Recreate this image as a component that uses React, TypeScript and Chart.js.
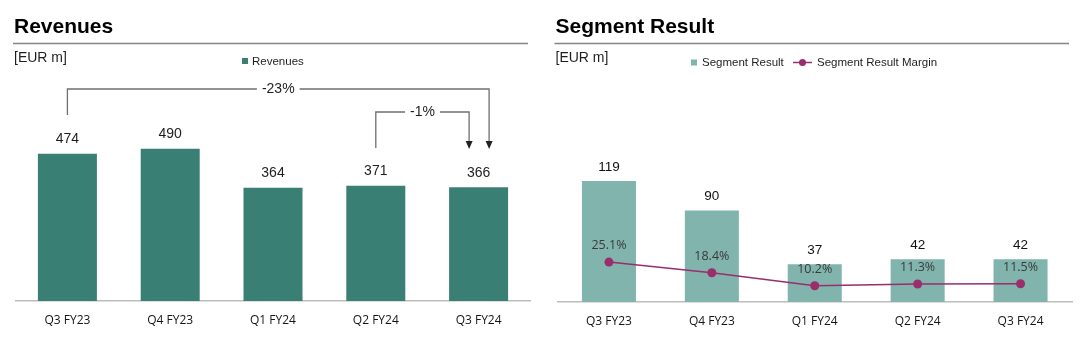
import React, { useEffect, useRef } from "react";
import { Chart, registerables } from "chart.js";

Chart.register(...registerables);

const categories = ["Q3 FY23", "Q4 FY23", "Q1 FY24", "Q2 FY24", "Q3 FY24"];
const revenues = [474, 490, 364, 371, 366];
const segmentResult = [119, 90, 37, 42, 42];
const segmentMargin = [25.1, 18.4, 10.2, 11.3, 11.5];
const revenueChangeLabels = ["-23%", "-1%"];

const FONT = '"Liberation Sans", Arial, Helvetica, sans-serif';
const TICK_FONT = '"Open Sans", "Liberation Sans", Arial, sans-serif';
const REV_COLOR = "#3a7f74";
const SEG_COLOR = "#80b4ad";
const LINE_COLOR = "#9a2d6c";
const TEXT = "#1e1e1e";

function drawHeader(ctx: CanvasRenderingContext2D, title: string, x: number, ruleEnd: number) {
  ctx.fillStyle = "#000";
  ctx.font = `bold 21px ${FONT}`;
  ctx.textAlign = "left";
  ctx.textBaseline = "alphabetic";
  ctx.fillText(title, x, 33);
  ctx.strokeStyle = "#858585";
  ctx.lineWidth = 1.5;
  ctx.beginPath();
  ctx.moveTo(x - 1, 43.5);
  ctx.lineTo(ruleEnd, 43.5);
  ctx.stroke();
  ctx.fillStyle = TEXT;
  ctx.font = `14px ${FONT}`;
  ctx.textBaseline = "middle";
  ctx.fillText("[EUR m]", x, 58);
}

function drawBracket(
  ctx: CanvasRenderingContext2D,
  xL: number,
  xR: number,
  yTop: number,
  yLeftEnd: number,
  yTip: number,
  label: string
) {
  ctx.font = `14px ${FONT}`;
  const tw = ctx.measureText(label).width;
  const cx = (xL + xR) / 2;
  const gap = 5;
  ctx.strokeStyle = "#6f6f6f";
  ctx.lineWidth = 1.3;
  ctx.beginPath();
  ctx.moveTo(xL, yLeftEnd);
  ctx.lineTo(xL, yTop);
  ctx.lineTo(cx - tw / 2 - gap, yTop);
  ctx.moveTo(cx + tw / 2 + gap, yTop);
  ctx.lineTo(xR, yTop);
  ctx.lineTo(xR, yTip - 6);
  ctx.stroke();
  ctx.fillStyle = "#222";
  ctx.beginPath();
  ctx.moveTo(xR - 3.5, yTip - 8);
  ctx.lineTo(xR + 3.5, yTip - 8);
  ctx.lineTo(xR, yTip);
  ctx.closePath();
  ctx.fill();
  ctx.fillStyle = TEXT;
  ctx.textAlign = "center";
  ctx.textBaseline = "middle";
  ctx.fillText(label, cx, yTop);
}

const revenuePlugin = {
  id: "revenueDecor",
  afterDraw(chart: any) {
    const ctx: CanvasRenderingContext2D = chart.ctx;
    const xs = chart.scales.x;
    ctx.save();
    drawHeader(ctx, "Revenues", 14, 528);
    // legend
    ctx.fillStyle = REV_COLOR;
    ctx.fillRect(242, 58, 6, 6);
    ctx.fillStyle = TEXT;
    ctx.font = `11.5px ${FONT}`;
    ctx.textAlign = "left";
    ctx.textBaseline = "middle";
    ctx.fillText("Revenues", 252, 61.5);
    // values
    const meta = chart.getDatasetMeta(0);
    ctx.font = `14px ${FONT}`;
    ctx.textAlign = "center";
    meta.data.forEach((bar: any, i: number) => {
      ctx.fillText(String(revenues[i]), bar.x, bar.y - 14.5);
    });
    // brackets
    const x0 = xs.getPixelForValue(0);
    const x3 = xs.getPixelForValue(3);
    const x4 = xs.getPixelForValue(4);
    drawBracket(ctx, x0, x4 + 10.5, 89, 115, 149, revenueChangeLabels[0]);
    drawBracket(ctx, x3, x4 - 9.5, 112, 148, 149, revenueChangeLabels[1]);
    ctx.restore();
  },
};

const segmentPlugin = {
  id: "segmentDecor",
  afterDraw(chart: any) {
    const ctx: CanvasRenderingContext2D = chart.ctx;
    ctx.save();
    drawHeader(ctx, "Segment Result", 15.5, 529);
    // legend
    ctx.fillStyle = SEG_COLOR;
    ctx.fillRect(151, 59.5, 6, 6);
    ctx.fillStyle = TEXT;
    ctx.font = `11.5px ${FONT}`;
    ctx.textAlign = "left";
    ctx.textBaseline = "middle";
    ctx.fillText("Segment Result", 162, 62.5);
    ctx.strokeStyle = LINE_COLOR;
    ctx.lineWidth = 1.5;
    ctx.beginPath();
    ctx.moveTo(253, 62.5);
    ctx.lineTo(272, 62.5);
    ctx.stroke();
    ctx.fillStyle = LINE_COLOR;
    ctx.beginPath();
    ctx.arc(262.5, 62.5, 3.5, 0, Math.PI * 2);
    ctx.fill();
    ctx.fillStyle = TEXT;
    ctx.fillText("Segment Result Margin", 277, 62.5);
    // bar values
    const bars = chart.getDatasetMeta(1);
    ctx.font = `13.5px ${FONT}`;
    ctx.textAlign = "center";
    ctx.fillStyle = "#111";
    bars.data.forEach((bar: any, i: number) => {
      ctx.fillText(String(segmentResult[i]), bar.x, bar.y - 14);
    });
    // margin values
    const pts = chart.getDatasetMeta(0);
    ctx.font = `12.5px "Open Sans", ${FONT}`;
    ctx.fillStyle = "#3a3a3a";
    pts.data.forEach((p: any, i: number) => {
      ctx.fillText(segmentMargin[i].toFixed(1) + "%", p.x, p.y - 16.5);
    });
    ctx.restore();
  },
};

function xScale(height: number) {
  return {
    grid: { display: true, drawOnChartArea: false, drawTicks: false },
    border: { display: true, color: "#bdbdbd", width: 1.5 },
    ticks: { padding: 12.5, color: "#151515", font: { family: TICK_FONT, size: 12 } },
    afterFit(scale: any) {
      scale.height = height;
    },
  };
}

function RevenueChart() {
  const ref = useRef<HTMLCanvasElement>(null);
  useEffect(() => {
    const chart = new Chart(ref.current as HTMLCanvasElement, {
      type: "bar",
      data: {
        labels: categories,
        datasets: [
          {
            label: "Revenues",
            data: revenues,
            backgroundColor: REV_COLOR,
            barPercentage: 0.574,
            categoryPercentage: 1,
          },
        ],
      },
      options: {
        responsive: false,
        animation: false,
        events: [],
        layout: { padding: { left: 16, right: 10, top: 100, bottom: 0 } },
        plugins: { legend: { display: false }, tooltip: { enabled: false }, title: { display: false } },
        scales: {
          x: xScale(44) as any,
          y: { display: false, min: 0, max: 646.7 },
        },
      },
      plugins: [revenuePlugin],
    });
    return () => chart.destroy();
  }, []);
  return <canvas ref={ref} width={540} height={345} style={{ display: "block" }} />;
}

function SegmentChart() {
  const ref = useRef<HTMLCanvasElement>(null);
  useEffect(() => {
    const chart = new Chart(ref.current as HTMLCanvasElement, {
      type: "bar",
      data: {
        labels: categories,
        datasets: [
          {
            type: "line",
            label: "Segment Result Margin",
            data: segmentMargin,
            yAxisID: "y1",
            borderColor: LINE_COLOR,
            backgroundColor: LINE_COLOR,
            borderWidth: 1.5,
            pointRadius: 4.5,
            pointBorderWidth: 0,
            pointBackgroundColor: LINE_COLOR,
            tension: 0,
            order: 0,
          } as any,
          {
            type: "bar",
            label: "Segment Result",
            data: segmentResult,
            yAxisID: "y",
            backgroundColor: SEG_COLOR,
            barPercentage: 0.525,
            categoryPercentage: 1,
            order: 1,
          },
        ],
      },
      options: {
        responsive: false,
        animation: false,
        events: [],
        layout: { padding: { left: 17.5, right: 8, top: 100, bottom: 0 } },
        plugins: { legend: { display: false }, tooltip: { enabled: false }, title: { display: false } },
        scales: {
          x: xScale(43) as any,
          y: { display: false, min: 0, max: 198.6 },
          y1: { display: false, min: 0, max: 127 },
        },
      },
      plugins: [segmentPlugin],
    });
    return () => chart.destroy();
  }, []);
  return <canvas ref={ref} width={540} height={345} style={{ display: "block" }} />;
}

export default function App() {
  return (
    <div
      style={{
        position: "absolute",
        left: 0,
        top: 0,
        width: 1080,
        height: 345,
        background: "#fff",
        display: "flex",
      }}
    >
      <RevenueChart />
      <SegmentChart />
    </div>
  );
}
